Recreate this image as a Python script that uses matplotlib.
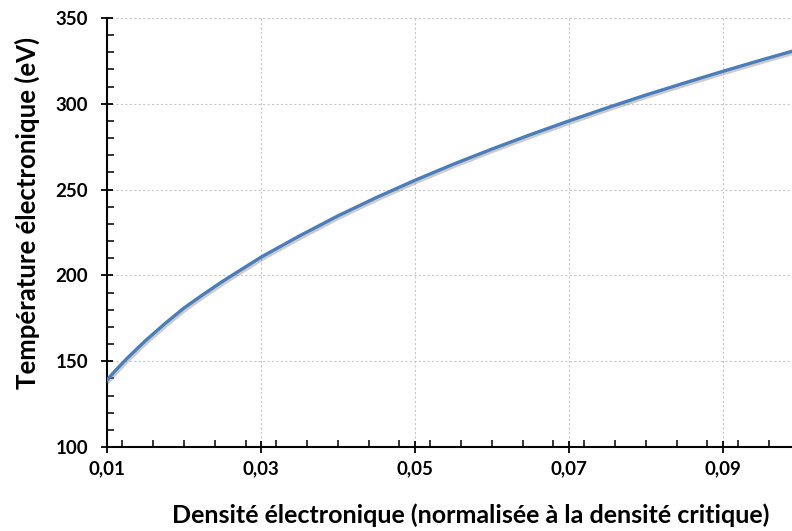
import matplotlib
matplotlib.use("Agg")
import matplotlib.pyplot as plt
import matplotlib.patheffects as pe
from matplotlib.ticker import MultipleLocator, FuncFormatter

# Data
densite = [0.010, 0.011, 0.0125, 0.015, 0.0175, 0.020, 0.0225, 0.025, 0.030, 0.035,
           0.040, 0.045, 0.050, 0.055, 0.060, 0.065, 0.070, 0.075, 0.080, 0.085,
           0.090, 0.095, 0.100]
temperature = [139, 144.1, 151.2, 162, 171.8, 181, 188.9, 196.5, 210.6, 223,
               234.7, 245.4, 255.4, 264.8, 273.6, 282, 290, 297.7, 305.1, 312.1,
               318.9, 325.5, 331.9]
x_ticks = [0.01, 0.03, 0.05, 0.07, 0.09]
y_ticks = [100, 150, 200, 250, 300, 350]

plt.rcParams['font.family'] = ['Lato', 'DejaVu Sans']
plt.rcParams['font.weight'] = 'bold'

fig = plt.figure(figsize=(7.92, 5.31), dpi=100)
ax = fig.add_axes([107/792, 1-447/531, 1-107/792, (447-18)/531])

ax.plot(densite, temperature, color='#4a7ebb', lw=2.4, solid_capstyle='round',
        solid_joinstyle='round',
        path_effects=[pe.SimpleLineShadow(offset=(1.0, -1.5), shadow_color='gray', alpha=0.4),
                      pe.Normal()], zorder=3)

ax.set_xlim(0.01, 0.099)
ax.set_ylim(100, 350)
ax.set_xticks(x_ticks)
ax.set_yticks(y_ticks)
ax.xaxis.set_minor_locator(MultipleLocator(0.004))
ax.yaxis.set_minor_locator(MultipleLocator(10))
ax.xaxis.set_major_formatter(FuncFormatter(lambda v, p: f"{v:.2f}".replace('.', ',')))

ax.grid(True, which='major', color='#c8c8c8', linestyle=(0, (2, 2)), lw=0.8)
ax.set_axisbelow(True)

for s in ['top', 'right']:
    ax.spines[s].set_visible(False)
for s in ['left', 'bottom']:
    ax.spines[s].set_linewidth(1.5)
    ax.spines[s].set_color('black')

ax.tick_params(which='major', direction='inout', length=9, width=1.3, labelsize=13.5, pad=5)
ax.tick_params(axis='y', which='major', pad=9)
ax.tick_params(which='minor', direction='in', length=5, width=1.1)
for lab in ax.get_xticklabels() + ax.get_yticklabels():
    lab.set_fontweight('bold')

fig.text(471/792, 1-515/531, "Densité électronique (normalisée à la densité critique)",
         ha='center', va='center', fontsize=18, fontweight='bold')
fig.text(27/792, 1-213/531, "Température électronique (eV)",
         ha='center', va='center', rotation=90, fontsize=18.5, fontweight='bold')

fig.savefig("out.png", dpi=100)
